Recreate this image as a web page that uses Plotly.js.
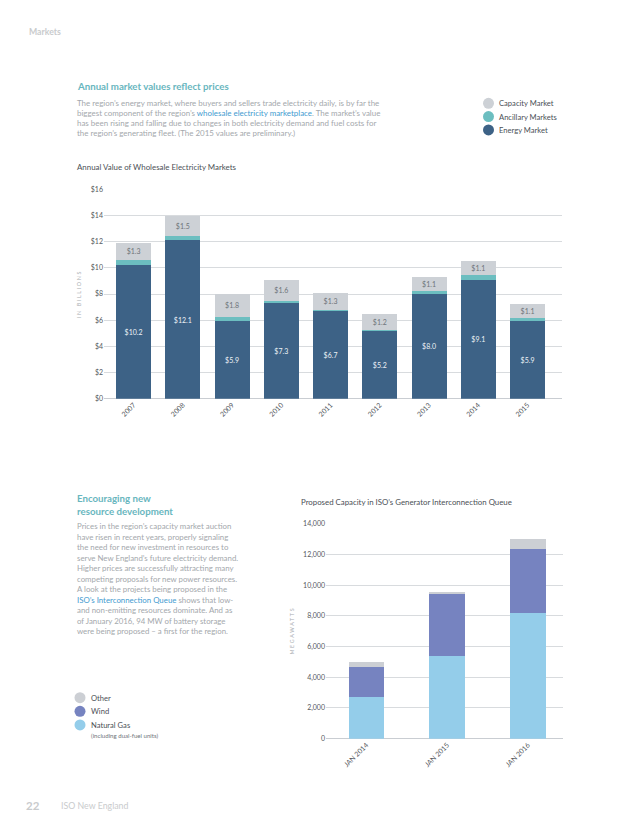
<!DOCTYPE html>
<html>
<head>
<meta charset="utf-8">
<script src="https://cdn.plot.ly/plotly-3.0.1.min.js"></script>
<style>
html,body{margin:0;padding:0;background:#fff;}
#chart{width:638px;height:836px;}
</style>
</head>
<body>
<div id="chart"></div>
<script>
// ---- Chart 1 data: Annual Value of Wholesale Electricity Markets ($ billions)
const years = ['2007','2008','2009','2010','2011','2012','2013','2014','2015'];
const energyMarket = [10.2, 12.1, 5.9, 7.3, 6.7, 5.2, 8.0, 9.1, 5.9];
const ancillaryMarkets = [0.4, 0.35, 0.33, 0.2, 0.1, 0.07, 0.23, 0.36, 0.25];
const capacityMarket = [1.3, 1.5, 1.8, 1.6, 1.3, 1.2, 1.1, 1.1, 1.1];
const valueTicks = [0, 2, 4, 6, 8, 10, 12, 14, 16];
const valueTickLabels = ['$0', '$2', '$4', '$6', '$8', '$10', '$12', '$14', '$16'];

// ---- Chart 2 data: Proposed Capacity in ISO's Generator Interconnection Queue (MW)
const queueDates = ['JAN 2014', 'JAN 2015', 'JAN 2016'];
const naturalGas = [2700, 5400, 8200];
const wind = [1970, 4040, 4170];
const other = [300, 110, 610];
const mwTicks = [0, 2000, 4000, 6000, 8000, 10000, 12000, 14000];

const W = 638, H = 836;
const px = x => x / W;
const py = y => 1 - y / H;
const FONT = 'Lato, "Open Sans", sans-serif';

const C_ENERGY = '#3d6286', C_ANC = '#6cbec0', C_CAP = '#cdd1d6';
const C_GAS = '#94cdea', C_WIND = '#7683c0', C_OTHER = '#cccfd4';
const TEAL = '#68b6be', BODY = '#a4a8ac', LINK = '#3f9bd0';

const dollar = v => '$' + v.toFixed(1);

const traces = [
  {type:'bar', x:years, y:energyMarket, name:'Energy Market', marker:{color:C_ENERGY},
   width:0.71, text:energyMarket.map(dollar), textposition:'inside', insidetextanchor:'middle',
   textangle:0, textfont:{color:'#eef2f6', size:7, family:FONT}, xaxis:'x', yaxis:'y'},
  {type:'bar', x:years, y:ancillaryMarkets, name:'Ancillary Markets', marker:{color:C_ANC},
   width:0.71, textposition:'none', xaxis:'x', yaxis:'y'},
  {type:'bar', x:years, y:capacityMarket, name:'Capacity Market', marker:{color:C_CAP},
   width:0.71, text:capacityMarket.map(dollar), textposition:'inside', insidetextanchor:'middle',
   textangle:0, textfont:{color:'#6e747a', size:7, family:FONT}, xaxis:'x', yaxis:'y'},
  {type:'bar', x:queueDates, y:naturalGas, name:'Natural Gas', marker:{color:C_GAS},
   width:0.44, textposition:'none', xaxis:'x2', yaxis:'y2'},
  {type:'bar', x:queueDates, y:wind, name:'Wind', marker:{color:C_WIND},
   width:0.44, textposition:'none', xaxis:'x2', yaxis:'y2'},
  {type:'bar', x:queueDates, y:other, name:'Other', marker:{color:C_OTHER},
   width:0.44, textposition:'none', xaxis:'x2', yaxis:'y2'}
];

function txt(x, y, text, size, color, opts) {
  return Object.assign({xref:'paper', yref:'paper', x:px(x), y:py(y), text:text,
    showarrow:false, xanchor:'left', yanchor:'middle',
    font:{family:FONT, size:size, color:color}}, opts || {});
}

const ann = [];
ann.push(txt(27, 32, '<b>Markets</b>', 8.7, '#c9cbcd'));
ann.push(txt(75, 86, '<b>Annual market values reflect prices</b>', 9.7, TEAL));
const para1 = [
  'The region\u2019s energy market, where buyers and sellers trade electricity daily, is by far the',
  'biggest component of the region\u2019s <span style="color:' + LINK + '">wholesale electricity marketplace</span>. The market\u2019s value',
  'has been rising and falling due to changes in both electricity demand and fuel costs for',
  'the region\u2019s generating fleet. (The 2015 values are preliminary.)'
];
para1.forEach((l, i) => ann.push(txt(75, 102.5 + i * 10.1, l, 7.95, BODY)));
ann.push(txt(75, 167, 'Annual Value of Wholesale Electricity Markets', 7.9, '#4b5056'));
ann.push(txt(79, 294, '<span style="letter-spacing:1.6px">IN BILLIONS</span>', 5.4, '#a9adb1', {textangle:-90, xanchor:'center'}));

// legend 1
const leg1 = [['Capacity Market', C_CAP], ['Ancillary Markets', C_ANC], ['Energy Market', C_ENERGY]];
const shapes = [];
leg1.forEach((d, i) => {
  const y = 103.3 + i * 13.3;
  ann.push(txt(497, y, d[0], 7.6, '#4b5056'));
  shapes.push({type:'circle', xref:'paper', yref:'paper', xsizemode:'pixel', ysizemode:'pixel',
    xanchor:px(488.5), yanchor:py(y), x0:-5.5, x1:5.5, y0:-5.5, y1:5.5,
    fillcolor:d[1], line:{width:0}});
});

ann.push(txt(75, 497.5, '<b>Encouraging new</b>', 9.7, TEAL));
ann.push(txt(75, 511, '<b>resource development</b>', 9.7, TEAL));
const para2 = [
  'Prices in the region\u2019s capacity market auction',
  'have risen in recent years, properly signaling',
  'the need for new investment in resources to',
  'serve New England\u2019s future electricity demand.',
  'Higher prices are successfully attracting many',
  'competing proposals for new power resources.',
  'A look at the projects being proposed in the',
  '<span style="color:' + LINK + '">ISO\u2019s Interconnection Queue</span> shows that low-',
  'and non-emitting resources dominate. And as',
  'of January 2016, 94 MW of battery storage',
  'were being proposed \u2013 a first for the region.'
];
para2.forEach((l, i) => ann.push(txt(75, 526 + i * 10.53, l, 7.85, BODY)));

ann.push(txt(299, 502, 'Proposed Capacity in ISO\u2019s Generator Interconnection Queue', 7.85, '#4b5056'));
ann.push(txt(291.5, 631, '<span style="letter-spacing:1.6px">MEGAWATTS</span>', 5.4, '#a9adb1', {textangle:-90, xanchor:'center'}));

// legend 2
const leg2 = [['Other', C_OTHER], ['Wind', C_WIND], ['Natural Gas', C_GAS]];
leg2.forEach((d, i) => {
  const y = 697.7 + i * 13.6;
  ann.push(txt(89, y, d[0], 7.6, '#4b5056'));
  shapes.push({type:'circle', xref:'paper', yref:'paper', xsizemode:'pixel', ysizemode:'pixel',
    xanchor:px(80), yanchor:py(y), x0:-5.5, x1:5.5, y0:-5.5, y1:5.5,
    fillcolor:d[1], line:{width:0}});
});
ann.push(txt(89, 735.5, '(including dual-fuel units)', 6.1, '#6e747a'));

ann.push(txt(24, 805, '<b>22</b>', 11.5, '#c9cbcd'));
ann.push(txt(59, 805, 'ISO New England', 8.8, '#c9cbcd'));

const axTick = {family:FONT, size:7, color:'#55595e'};
const layout = {
  width:W, height:H, margin:{l:0, r:0, t:0, b:0},
  paper_bgcolor:'#fff', plot_bgcolor:'#fff',
  showlegend:false, barmode:'stack',
  font:{family:FONT},
  xaxis:{domain:[px(104), px(562)], anchor:'y', type:'category', range:[-0.6, 8.7],
    tickangle:-45, tickfont:axTick, showgrid:false, zeroline:false, showline:false, ticks:''},
  yaxis:{domain:[py(398.7), py(189.3)], anchor:'x', range:[0, 16], tickmode:'array',
    tickvals:valueTicks, ticktext:valueTickLabels, tickfont:axTick,
    showgrid:true, gridcolor:'#d8dbde', gridwidth:1,
    zeroline:true, zerolinecolor:'#c9cdd2', zerolinewidth:1, showline:false, ticks:''},
  xaxis2:{domain:[px(326), px(562.7)], anchor:'y2', type:'category', range:[-0.5, 2.43],
    tickangle:-45, tickfont:axTick, showgrid:false, zeroline:false, showline:false, ticks:''},
  yaxis2:{domain:[py(738.7), py(523.7)], anchor:'x2', range:[0, 14000], tickvals:mwTicks,
    tickformat:',', tickfont:axTick, showgrid:true, gridcolor:'#d8dbde', gridwidth:1,
    zeroline:true, zerolinecolor:'#c9cdd2', zerolinewidth:1, showline:false, ticks:''},
  annotations:ann, shapes:shapes
};

Plotly.newPlot('chart', traces, layout, {staticPlot:true, displayModeBar:false});
</script>
</body>
</html>
